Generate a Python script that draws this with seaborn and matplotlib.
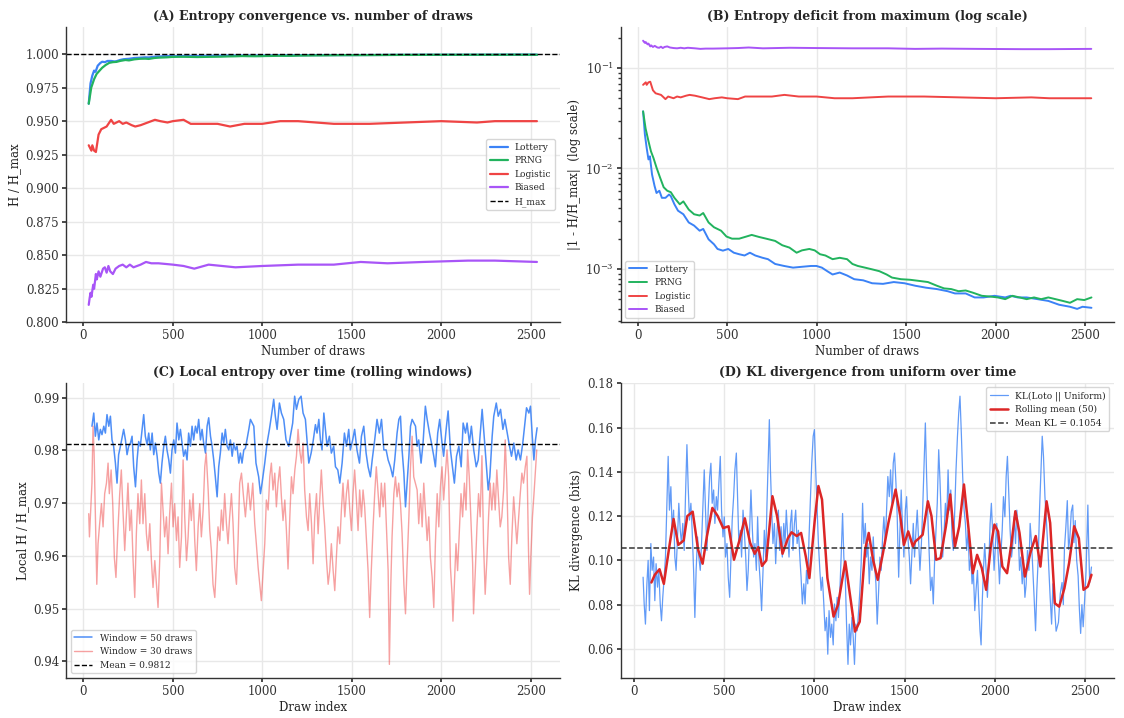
import matplotlib.pyplot as plt
import numpy as np
import seaborn as sns

sns.set_theme(style="whitegrid")
plt.rcParams.update({
    "font.family": ["DejaVu Serif"],
    "axes.edgecolor": "#333333",
    "axes.linewidth": 1.0,
    "grid.color": "#e8e8e8",
    "xtick.bottom": True,
    "ytick.left": True,
    "xtick.major.size": 3,
    "ytick.major.size": 3,
    "ytick.minor.size": 2,
    "xtick.color": "#333333",
    "ytick.color": "#333333",
    "axes.labelcolor": "#222222",
})

C_LOTTERY = "#3b82f6"
C_PRNG = "#22b35e"
C_LOGISTIC = "#ef4444"
C_BIASED = "#a855f7"

# --- (A)/(B): cumulative entropy, deficit read from (B) for lottery & PRNG
lottery_n = [30, 40, 50, 60, 68, 80, 94, 105, 121, 135, 155, 175, 185, 205, 225, 255, 285, 315,
             346, 366, 396, 426, 446, 476, 506, 537, 567, 597, 627, 657, 698, 728, 768, 818, 868,
             918, 969, 999, 1029, 1059, 1089, 1129, 1170, 1210, 1260, 1310, 1371, 1431, 1491,
             1551, 1612, 1672, 1732, 1773, 1833, 1883, 1933, 1994, 2054, 2084, 2124, 2174, 2235,
             2295, 2355, 2416, 2456, 2486, 2536]
lottery_def = [0.037, 0.0218, 0.016, 0.0123, 0.0132, 0.0087, 0.0067, 0.0057, 0.006, 0.0051, 0.0051,
               0.0055, 0.0053, 0.0044, 0.0038, 0.0035, 0.0029, 0.0027, 0.0024, 0.0025, 0.00197,
               0.00176, 0.00158, 0.00152, 0.00158, 0.00145, 0.0014, 0.00136, 0.00145, 0.00136,
               0.00129, 0.00125, 0.00112, 0.00107, 0.00103, 0.00105, 0.00107, 0.00107, 0.00103,
               0.00095, 0.00088, 0.00092, 0.00086, 0.00079, 0.00077, 0.00072, 0.00071, 0.00074,
               0.00072, 0.00068, 0.00065, 0.00063, 0.0006, 0.00057, 0.00057, 0.00052, 0.00052,
               0.00054, 0.00052, 0.00054, 0.00052, 0.00052, 0.0005, 0.00048, 0.00044, 0.00042,
               0.0004, 0.00042, 0.00041]

prng_n = [30, 44, 60, 74, 88, 105, 125, 145, 165, 185, 205, 235, 255, 285, 315, 346, 366, 396, 426,
          466, 496, 527, 567, 607, 637, 678, 718, 768, 808, 848, 888, 918, 959, 989, 1019, 1049,
          1089, 1129, 1170, 1200, 1230, 1270, 1310, 1350, 1391, 1421, 1471, 1521, 1572, 1622, 1672,
          1712, 1752, 1793, 1833, 1873, 1923, 1973, 2013, 2054, 2094, 2134, 2174, 2215, 2255, 2295,
          2335, 2376, 2416, 2456, 2496, 2536]
prng_def = [0.037, 0.025, 0.0187, 0.0148, 0.0127, 0.0102, 0.0081, 0.0065, 0.006, 0.0058, 0.0051,
            0.0044, 0.0047, 0.0039, 0.0035, 0.0034, 0.0036, 0.0029, 0.0026, 0.0024, 0.0021, 0.002,
            0.002, 0.0021, 0.00218, 0.00208, 0.002, 0.0019, 0.00172, 0.00163, 0.00145, 0.00153,
            0.00158, 0.00153, 0.0014, 0.00136, 0.00125, 0.00129, 0.00125, 0.00112, 0.00107,
            0.00103, 0.00099, 0.00095, 0.00088, 0.00082, 0.00079, 0.00078, 0.00076, 0.00074,
            0.00068, 0.00064, 0.00063, 0.0006, 0.00061, 0.00058, 0.00054, 0.00053, 0.00052,
            0.0005, 0.00054, 0.00052, 0.0005, 0.00052, 0.0005, 0.00052, 0.0005, 0.00048,
            0.00046, 0.0005, 0.00049, 0.00052]

# logistic & biased read from (A) as H / H_max
logistic_n = [30, 45, 50, 60, 70, 85, 100, 130, 140, 155, 170, 200, 220, 240, 270, 290, 320, 360,
              400, 430, 470, 500, 560, 600, 750, 820, 900, 1000, 1100, 1200, 1300, 1400, 1600,
              1800, 2000, 2200, 2300, 2535]
logistic_h = [0.932, 0.928, 0.932, 0.928, 0.927, 0.940, 0.944, 0.946, 0.948, 0.951, 0.948, 0.950,
              0.948, 0.949, 0.947, 0.946, 0.947, 0.949, 0.951, 0.950, 0.949, 0.950, 0.951, 0.948,
              0.948, 0.946, 0.948, 0.948, 0.950, 0.950, 0.949, 0.948, 0.948, 0.949, 0.950, 0.949,
              0.950, 0.950]

biased_n = [30, 35, 40, 45, 55, 60, 70, 75, 85, 95, 110, 120, 130, 140, 150, 165, 180, 200, 220,
            240, 260, 280, 320, 350, 380, 420, 500, 560, 620, 700, 850, 1000, 1200, 1400, 1550,
            1700, 1900, 2150, 2300, 2535]
biased_h = [0.813, 0.818, 0.822, 0.819, 0.828, 0.825, 0.836, 0.832, 0.838, 0.834, 0.840, 0.841,
            0.837, 0.842, 0.838, 0.836, 0.840, 0.842, 0.843, 0.841, 0.843, 0.841, 0.843, 0.845,
            0.844, 0.844, 0.843, 0.842, 0.840, 0.843, 0.841, 0.842, 0.843, 0.843, 0.845, 0.844,
            0.845, 0.846, 0.846, 0.845]

# --- (C): rolling-window local entropy, (draw index, H / H_max)
w50_points = [
    (48, .9846), (58, .9871), (67, .9827), (76, .9852), (86, .982), (95, .984), (104, .983),
    (114, .9846), (123, .9833), (132, .9868), (142, .9846), (151, .9865), (160, .982),
    (169, .9808), (179, .9776), (188, .9738), (197, .9792), (207, .9808), (216, .9824),
    (225, .984), (235, .982), (244, .9792), (253, .9808), (263, .9814), (272, .9827),
    (281, .9769), (291, .9731), (300, .9782), (309, .9817), (318, .9808), (328, .984),
    (337, .9868), (346, .9827), (356, .9811), (365, .9833), (374, .9801), (384, .9833),
    (393, .9792), (402, .9814), (412, .9789), (421, .9757), (430, .9738), (439, .9776),
    (449, .9808), (458, .9827), (467, .9801), (477, .9782), (486, .9757), (495, .9801),
    (505, .982), (514, .9795), (523, .9852), (533, .982), (542, .984), (551, .9814),
    (560, .9789), (570, .9801), (579, .9782), (588, .9833), (598, .9808), (607, .9846),
    (616, .982), (626, .9846), (635, .9833), (644, .9859), (654, .982), (663, .984),
    (672, .9814), (682, .9795), (691, .9846), (700, .9862), (710, .9827), (719, .9808),
    (728, .9782), (737, .975), (747, .9712), (756, .9769), (765, .9795), (775, .9833),
    (784, .9814), (793, .984), (803, .9808), (812, .9801), (821, .982), (831, .9789),
    (840, .9814), (849, .9801), (858, .9808), (868, .9776), (877, .9795), (886, .9776),
    (896, .9801), (905, .9804), (924, .984), (933, .9859), (952, .9846), (964, .9776),
    (979, .975), (989, .9718), (998, .9738), (1013, .9776), (1026, .9814), (1039, .984),
    (1050, .9865), (1063, .9897), (1072, .9865), (1082, .984), (1095, .989), (1106, .9871),
    (1119, .9859), (1132, .982), (1147, .9808), (1156, .9827), (1169, .9852), (1180, .9903),
    (1190, .9878), (1203, .9897), (1216, .9903), (1227, .9871), (1240, .9859), (1249, .982),
    (1259, .9776), (1272, .9795), (1283, .9817), (1296, .9849), (1305, .9833), (1315, .9859),
    (1324, .982), (1333, .9801), (1343, .9871), (1352, .984), (1361, .9808), (1374, .9827),
    (1385, .9795), (1398, .9808), (1408, .9769), (1421, .9763), (1432, .9738), (1445, .9776),
    (1458, .9833), (1469, .9808), (1482, .984), (1491, .9801), (1504, .982), (1515, .984),
    (1528, .9801), (1542, .9776), (1553, .9827), (1566, .9846), (1579, .9795), (1590, .9769),
    (1603, .975), (1613, .9782), (1627, .982), (1640, .9859), (1653, .9833), (1665, .9859),
    (1678, .9801), (1691, .9801), (1702, .9782), (1715, .9769), (1728, .975), (1739, .9782),
    (1752, .9833), (1762, .9859), (1771, .9865), (1780, .9801), (1790, .9757), (1799, .9693),
    (1808, .9738), (1818, .9789), (1827, .9846), (1836, .9859), (1855, .9846), (1864, .9808),
    (1873, .982), (1886, .9776), (1897, .9814), (1910, .9884), (1920, .9859), (1933, .9833),
    (1944, .9814), (1957, .9789), (1966, .9769), (1979, .9833), (1990, .9859), (2003, .9814),
    (2012, .9789), (2026, .984), (2037, .9875), (2050, .9801), (2063, .9763), (2072, .9738),
    (2084, .9789), (2097, .9808), (2110, .9769), (2121, .9852), (2134, .9833), (2143, .9852),
    (2156, .9814), (2167, .9846), (2180, .9801), (2194, .9769), (2205, .9782), (2218, .984),
    (2227, .9878), (2240, .982), (2251, .9769), (2261, .9725), (2270, .975), (2283, .9827),
    (2292, .9865), (2306, .989), (2317, .9865), (2330, .9878), (2343, .984), (2354, .9859),
    (2367, .9833), (2380, .9808), (2391, .9789), (2404, .9814), (2417, .9782), (2428, .9801),
    (2441, .9782), (2454, .9814), (2464, .9846), (2475, .9881), (2488, .9871), (2497, .9884),
    (2507, .9827), (2516, .9782), (2525, .982), (2534, .9843),
]

w30_points = [
    (30, .968), (34, .9636), (41, .9687), (48, .9738), (54, .9846), (60, .9795), (67, .9674),
    (75, .9546), (82, .9623), (91, .9661), (101, .9699), (110, .9655), (119, .9718),
    (129, .9738), (138, .9776), (145, .9718), (155, .9763), (164, .9699), (173, .9597),
    (182, .9559), (192, .9642), (203, .9718), (212, .9763), (221, .9687), (231, .961),
    (240, .9674), (249, .9738), (259, .9648), (268, .9687), (277, .9597), (287, .9521),
    (296, .9642), (305, .9718), (315, .9661), (324, .9744), (333, .9661), (343, .9718),
    (352, .9642), (361, .961), (371, .9661), (380, .9591), (389, .954), (399, .9591),
    (408, .9546), (417, .9502), (427, .9597), (436, .9738), (445, .9687), (454, .9636),
    (464, .9674), (473, .9604), (482, .968), (492, .9738), (501, .9655), (510, .9699),
    (520, .9629), (529, .9674), (538, .9578), (548, .9636), (557, .9782), (566, .9674),
    (576, .9591), (585, .9636), (594, .9706), (603, .9667), (613, .9718), (622, .9629),
    (631, .9572), (641, .9655), (650, .9699), (659, .9636), (669, .9687), (678, .9769),
    (686, .9795), (697, .9725), (706, .9648), (715, .961), (724, .9546), (734, .9521),
    (743, .9585), (752, .9655), (762, .9629), (771, .9687), (780, .9648), (789, .9718),
    (799, .9661), (808, .9623), (817, .9674), (827, .9718), (836, .9661), (845, .9578),
    (855, .9546), (864, .9629), (873, .9738), (883, .9757), (896, .9706), (905, .9674),
    (920, .9738), (933, .9687), (946, .9738), (957, .9661), (966, .9623), (976, .9578),
    (985, .9546), (994, .9515), (1004, .9572), (1013, .9623), (1022, .9706), (1032, .9687),
    (1041, .975), (1050, .9776), (1059, .9725), (1069, .9757), (1078, .9693), (1087, .9738),
    (1097, .9769), (1106, .9712), (1115, .9667), (1125, .9706), (1134, .9648), (1143, .9575),
    (1153, .9674), (1162, .975), (1171, .9718), (1181, .9763), (1190, .9789), (1199, .984),
    (1208, .9801), (1218, .9776), (1227, .9814), (1236, .9725), (1246, .9674), (1255, .9648),
    (1264, .9718), (1274, .9661), (1283, .9585), (1292, .9674), (1302, .9718), (1311, .9642),
    (1320, .9706), (1329, .9763), (1339, .9699), (1348, .9655), (1357, .9597), (1367, .9546),
    (1376, .9572), (1385, .9623), (1395, .9572), (1404, .9534), (1413, .9597), (1422, .9655),
    (1432, .9623), (1441, .9687), (1450, .9738), (1460, .9674), (1469, .9718), (1478, .9744),
    (1488, .9687), (1497, .9648), (1506, .9718), (1515, .9763), (1525, .9706), (1534, .9648),
    (1543, .9725), (1553, .9674), (1562, .9725), (1571, .9693), (1580, .9636), (1590, .9572),
    (1599, .9483), (1608, .9572), (1618, .9655), (1627, .9718), (1636, .9769), (1646, .9718),
    (1655, .9674), (1664, .9738), (1674, .9693), (1683, .9738), (1692, .9661), (1702, .9572),
    (1709, .9394), (1717, .9546), (1724, .9636), (1734, .9718), (1743, .975), (1752, .9712),
    (1761, .9738), (1771, .9699), (1780, .9642), (1790, .9546), (1799, .949), (1808, .9585),
    (1818, .9674), (1827, .9769), (1836, .9827), (1845, .975), (1864, .9725), (1873, .9661),
    (1883, .9718), (1892, .9655), (1901, .9738), (1910, .9687), (1920, .9629), (1929, .9674),
    (1938, .9597), (1948, .9559), (1957, .9502), (1966, .9623), (1976, .9718), (1985, .9655),
    (1994, .9731), (2003, .9769), (2012, .9706), (2022, .9757), (2031, .9801), (2040, .975),
    (2050, .9578), (2059, .9527), (2064, .9476), (2072, .9546), (2081, .9623), (2090, .9572),
    (2100, .9648), (2109, .9718), (2118, .9674), (2128, .9738), (2137, .9687), (2146, .9801),
    (2155, .975), (2165, .9661), (2174, .9585), (2179, .949), (2189, .9572), (2198, .9655),
    (2207, .9718), (2216, .9674), (2226, .9790), (2235, .9623), (2244, .9527), (2254, .9597),
    (2263, .9674), (2272, .9738), (2281, .9687), (2291, .9738), (2300, .9687), (2309, .9763),
    (2319, .9706), (2328, .9655), (2337, .9674), (2347, .9725), (2356, .9820), (2365, .9738),
    (2375, .9597), (2384, .9546), (2393, .9636), (2403, .9712), (2412, .9667), (2421, .9623),
    (2431, .9674), (2440, .9718), (2449, .9757), (2458, .9738), (2468, .9769), (2477, .9789),
    (2486, .961), (2492, .9527), (2499, .9597), (2508, .9674), (2518, .9725), (2527, .9776),
    (2532, .9801),
]
MEAN_LOCAL = 0.9812

# --- (D): KL divergence per draw (draw index, bits) and its rolling mean
kl_points = [
    (50, .0924), (56, .0803), (63, .0712), (71, .0894), (78, .100), (85, .0773), (93, .1076),
    (100, .0955), (108, .1015), (115, .0818), (122, .0985), (130, .0879), (137, .0955),
    (145, .0803), (152, .0727), (159, .0833), (167, .0924), (174, .1015), (182, .1258),
    (189, .147), (196, .1227), (204, .1333), (211, .1136), (219, .1227), (226, .1015),
    (233, .0955), (241, .1106), (248, .1258), (256, .1136), (263, .1076), (270, .1167),
    (278, .1045), (285, .1288), (293, .1523), (300, .1333), (307, .1182), (315, .1258),
    (322, .1136), (330, .0955), (337, .0742), (344, .0955), (352, .1106), (359, .1015),
    (367, .0955), (374, .1076), (381, .1227), (389, .1409), (396, .1227), (404, .1045),
    (411, .1227), (419, .1379), (426, .1439), (433, .1258), (441, .1318), (448, .1167),
    (456, .1288), (463, .1227), (470, .1348), (478, .147), (485, .1227), (493, .1106),
    (500, .1197), (507, .1015), (515, .1076), (522, .0924), (530, .0833), (537, .1015),
    (544, .1182), (552, .1288), (559, .1409), (567, .1485), (574, .1288), (581, .1076),
    (589, .1136), (596, .1015), (604, .1227), (611, .1136), (619, .1015), (626, .0864),
    (633, .0955), (641, .1152), (648, .1318), (656, .1136), (663, .1015), (670, .1076),
    (678, .0955), (685, .1197), (693, .0985), (700, .0894), (707, .0773), (715, .0955),
    (722, .1136), (730, .1015), (737, .1258), (744, .147), (750, .1636), (756, .1409),
    (763, .1227), (770, .1076), (778, .1167), (785, .0985), (793, .1136), (800, .1227),
    (807, .1045), (815, .1152), (822, .1015), (830, .1167), (837, .1076), (844, .1227),
    (852, .1106), (859, .1015), (867, .1167), (874, .1227), (881, .1045), (889, .1167),
    (896, .1227), (904, .1076), (911, .1136), (919, .1015), (926, .0924), (933, .0803),
    (941, .0894), (948, .0803), (956, .0955), (963, .0894), (970, .1106), (978, .1288),
    (985, .1439), (993, .1561), (1000, .1591), (1007, .1409), (1015, .1227), (1022, .1076),
    (1030, .0955), (1037, .0864), (1044, .0924), (1052, .0803), (1059, .0682), (1067, .0742),
    (1074, .0576), (1081, .0773), (1089, .0652), (1096, .0712), (1104, .0618), (1111, .0803),
    (1119, .0727), (1126, .0833), (1133, .0742), (1141, .0864), (1148, .1015), (1156, .1212),
    (1163, .1015), (1171, .0924), (1178, .0712), (1186, .053), (1193, .0712), (1200, .0618),
    (1208, .0742), (1215, .0652), (1222, .053), (1230, .0712), (1237, .0682), (1245, .0773),
    (1252, .0864), (1259, .0985), (1267, .1258), (1274, .1076), (1282, .1167), (1289, .1015),
    (1296, .1076), (1304, .0894), (1311, .1015), (1319, .0955), (1326, .1106), (1333, .0985),
    (1341, .0894), (1348, .0712), (1356, .0864), (1363, .1015), (1370, .0955), (1378, .1106),
    (1385, .1197), (1393, .1076), (1400, .1227), (1407, .1379), (1415, .1288), (1422, .1409),
    (1430, .1258), (1437, .1439), (1444, .1485), (1452, .1348), (1459, .1197), (1467, .0924),
    (1474, .1136), (1481, .1318), (1489, .1136), (1496, .1015), (1504, .1227), (1511, .1288),
    (1518, .1106), (1526, .1015), (1533, .0894), (1541, .1045), (1548, .1167), (1555, .1015),
    (1563, .1136), (1570, .1227), (1578, .1076), (1585, .0955), (1593, .1076), (1600, .1227),
    (1607, .1409), (1615, .1621), (1622, .1379), (1630, .1167), (1637, .1015), (1644, .0864),
    (1652, .0924), (1659, .0803), (1667, .1015), (1674, .1136), (1681, .1258), (1689, .150),
    (1696, .1364), (1704, .1167), (1711, .1015), (1718, .1106), (1726, .1258), (1733, .1167),
    (1741, .1409), (1748, .1227), (1756, .1318), (1763, .1106), (1770, .1045), (1778, .1227),
    (1785, .1409), (1793, .1561), (1800, .1667), (1807, .1742), (1815, .1561), (1822, .1379),
    (1830, .1227), (1837, .1167), (1844, .1045), (1852, .1136), (1859, .0955), (1867, .1015),
    (1874, .0894), (1881, .0955), (1889, .0773), (1896, .0864), (1904, .0955), (1911, .0803),
    (1918, .0682), (1924, .0618), (1930, .0803), (1937, .0955), (1944, .1076), (1952, .0955),
    (1959, .0833), (1967, .0985), (1974, .1167), (1981, .1258), (1989, .1106), (1996, .0955),
    (2004, .1076), (2011, .1167), (2019, .1015), (2026, .0894), (2033, .1015), (2041, .1136),
    (2048, .1288), (2056, .1197), (2063, .1379), (2070, .147), (2078, .1288), (2085, .1136),
    (2093, .1015), (2100, .1076), (2107, .1197), (2115, .1076), (2122, .1227), (2130, .1136),
    (2137, .0955), (2144, .1015), (2152, .0894), (2159, .0985), (2167, .0833), (2174, .0894),
    (2181, .1045), (2189, .0955), (2196, .1167), (2204, .1076), (2211, .0955), (2218, .0833),
    (2226, .0682), (2233, .0864), (2241, .1015), (2248, .1227), (2256, .1409), (2263, .1561),
    (2270, .147), (2278, .1288), (2285, .1197), (2293, .1076), (2300, .0955), (2307, .0833),
    (2315, .0712), (2322, .0894), (2330, .0803), (2340, .0680), (2353, .072), (2363, .0850),
    (2373, .090), (2380, .0800), (2386, .105), (2394, .1150), (2402, .127), (2409, .1050),
    (2416, .110), (2424, .1220), (2432, .125), (2439, .1080), (2446, .118), (2454, .1000),
    (2462, .093), (2469, .0780), (2476, .067), (2483, .0800), (2490, .070), (2498, .0820),
    (2506, .095), (2511, .1100), (2516, .125), (2521, .1050), (2526, .090), (2536, .097),
]

roll_idx = [96, 115, 141, 165, 195, 219, 245, 275, 295, 325, 355, 380, 404, 434, 464, 494, 524,
            554, 584, 614, 643, 669, 689, 709, 733, 767, 793, 823, 853, 873, 902, 926, 952, 972,
            1002, 1022, 1042, 1072, 1106, 1131, 1171, 1201, 1225, 1251, 1281, 1301, 1325, 1351,
            1380, 1410, 1430, 1450, 1476, 1496, 1520, 1546, 1560, 1580, 1600, 1629, 1649, 1675,
            1699, 1729, 1753, 1779, 1803, 1829, 1853, 1878, 1902, 1928, 1952, 1978, 1998, 2018,
            2042, 2068, 2094, 2114, 2137, 2167, 2197, 2227, 2253, 2287, 2307, 2333, 2357, 2386,
            2412, 2440, 2466, 2492, 2516, 2536]
roll_val = [0.090, 0.0935, 0.096, 0.0894, 0.106, 0.1187, 0.107, 0.109, 0.120, 0.122, 0.1048,
            0.0985, 0.111, 0.1237, 0.120, 0.1146, 0.1154, 0.1003, 0.109, 0.119, 0.108, 0.103,
            0.106, 0.0975, 0.100, 0.129, 0.120, 0.103, 0.110, 0.1127, 0.111, 0.1124, 0.1018,
            0.092, 0.1184, 0.1336, 0.1275, 0.092, 0.0746, 0.080, 0.0995, 0.0821, 0.0678, 0.0723,
            0.1048, 0.1124, 0.1003, 0.0912, 0.1033, 0.1169, 0.1245, 0.132, 0.120, 0.107, 0.1131,
            0.1063, 0.1086, 0.110, 0.1116, 0.1267, 0.120, 0.1003, 0.101, 0.1154, 0.1298, 0.1063,
            0.1154, 0.1343, 0.1154, 0.0942, 0.1025, 0.0965, 0.0867, 0.1063, 0.1162, 0.1131,
            0.0972, 0.0942, 0.1086, 0.1222, 0.1124, 0.0927, 0.1033, 0.111, 0.0972, 0.1267,
            0.1169, 0.0806, 0.0791, 0.0874, 0.0988, 0.1154, 0.110, 0.0867, 0.0882, 0.0935]
MEAN_KL = 0.1054


def unzip(points):
    xs, ys = zip(*points)
    return list(xs), list(ys)


def style_ax(ax, title, xlabel, ylabel):
    ax.set_title(title, fontsize=9, fontweight="bold", pad=5)
    ax.set_xlabel(xlabel, fontsize=8.5, labelpad=2)
    ax.set_ylabel(ylabel, fontsize=8.5, labelpad=3)
    ax.tick_params(labelsize=8.5, pad=2)
    sns.despine(ax=ax)


fig, axes = plt.subplots(2, 2, figsize=(11.24, 7.18), dpi=100)
fig.subplots_adjust(left=0.059, right=0.991, top=0.962, bottom=0.056, wspace=0.124, hspace=0.205)
ax_a, ax_b, ax_c, ax_d = axes.ravel()

# (A)
lottery_h = 1 - np.array(lottery_def)
prng_h = 1 - np.array(prng_def)
sns.lineplot(x=lottery_n, y=lottery_h, ax=ax_a, color=C_LOTTERY, lw=1.6, label="Lottery")
sns.lineplot(x=prng_n, y=prng_h, ax=ax_a, color=C_PRNG, lw=1.6, label="PRNG")
sns.lineplot(x=logistic_n, y=logistic_h, ax=ax_a, color=C_LOGISTIC, lw=1.6, label="Logistic")
sns.lineplot(x=biased_n, y=biased_h, ax=ax_a, color=C_BIASED, lw=1.6, label="Biased")
ax_a.axhline(1.0, color="black", ls="--", lw=1, label="H_max")
ax_a.set_ylim(0.8, 1.02)
ax_a.set_yticks(np.arange(0.8, 1.001, 0.025))
ax_a.yaxis.set_major_formatter(plt.FormatStrFormatter("%.3f"))
ax_a.legend(loc="center right", fontsize=6.5, frameon=True)
style_ax(ax_a, "(A) Entropy convergence vs. number of draws", "Number of draws", "H / H_max")

# (B)
logistic_def = 1 - np.array(logistic_h)
biased_def = 1 - np.array(biased_h)
sns.lineplot(x=lottery_n, y=lottery_def, ax=ax_b, color=C_LOTTERY, lw=1.4, label="Lottery")
sns.lineplot(x=prng_n, y=prng_def, ax=ax_b, color=C_PRNG, lw=1.4, label="PRNG")
sns.lineplot(x=logistic_n, y=logistic_def, ax=ax_b, color=C_LOGISTIC, lw=1.4, label="Logistic")
sns.lineplot(x=biased_n, y=biased_def, ax=ax_b, color=C_BIASED, lw=1.4, label="Biased")
ax_b.set_yscale("log")
ax_b.legend(loc="lower left", fontsize=6.5, frameon=True)
style_ax(ax_b, "(B) Entropy deficit from maximum (log scale)", "Number of draws",
         "|1 - H/H_max|  (log scale)")

# (C)
w50_idx, w50_h = unzip(w50_points)
w30_idx, w30_h = unzip(w30_points)
sns.lineplot(x=w50_idx, y=w50_h, ax=ax_c, color=C_LOTTERY, lw=1.1, alpha=0.9,
             label="Window = 50 draws")
sns.lineplot(x=w30_idx, y=w30_h, ax=ax_c, color=C_LOGISTIC, lw=1.0, alpha=0.5,
             label="Window = 30 draws")
ax_c.axhline(MEAN_LOCAL, color="black", ls="--", lw=1, label=f"Mean = {MEAN_LOCAL:.4f}")
ax_c.set_yticks([0.94, 0.95, 0.96, 0.97, 0.98, 0.99])
ax_c.legend(loc="lower left", fontsize=6.5, frameon=True)
style_ax(ax_c, "(C) Local entropy over time (rolling windows)", "Draw index", "Local H / H_max")

# (D)
kl_idx, kl_val = unzip(kl_points)
sns.lineplot(x=kl_idx, y=kl_val, ax=ax_d, color=C_LOTTERY, lw=0.9, alpha=0.8,
             label="KL(Loto || Uniform)")
sns.lineplot(x=roll_idx, y=roll_val, ax=ax_d, color="#dc2626", lw=1.8, label="Rolling mean (50)")
ax_d.axhline(MEAN_KL, color="#333333", ls="--", lw=1.1, label=f"Mean KL = {MEAN_KL:.4f}")
ax_d.legend(loc="upper right", fontsize=6.5, frameon=True)
style_ax(ax_d, "(D) KL divergence from uniform over time", "Draw index", "KL divergence (bits)")

for ax in (ax_a, ax_b, ax_c, ax_d):
    ax.set_xticks([0, 500, 1000, 1500, 2000, 2500])

fig.savefig("out.png", dpi=100)
